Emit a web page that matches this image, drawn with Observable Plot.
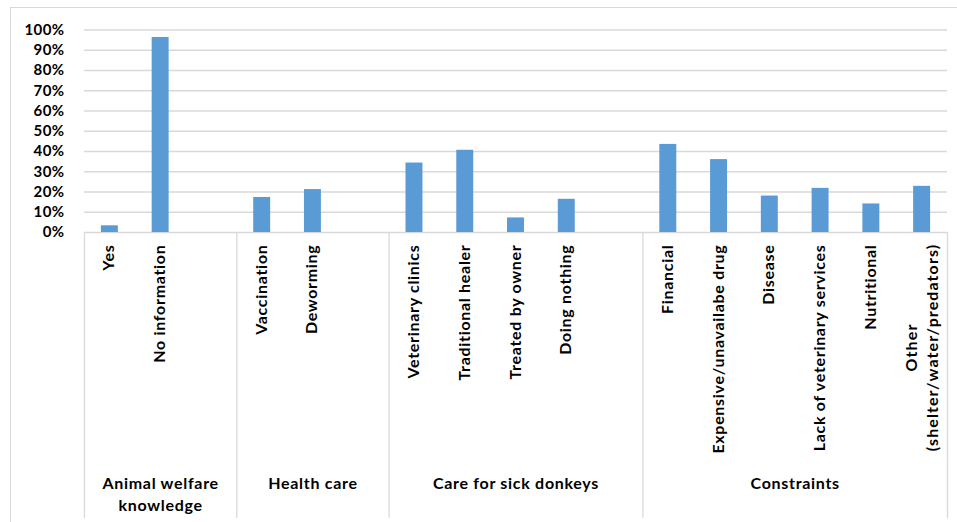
<!DOCTYPE html>
<html><head><meta charset="utf-8">
<script src="https://cdn.jsdelivr.net/npm/d3@7"></script>
<script src="https://cdn.jsdelivr.net/npm/@observablehq/plot@0.6"></script>
<style>
html,body{margin:0;padding:0;background:#fff;}
#wrap{position:relative;width:957px;height:522px;overflow:hidden;}
#border{position:absolute;left:10px;top:7px;width:1000px;height:1000px;border:1px solid #d9d9d9;box-sizing:border-box;}
#chart{position:absolute;left:0;top:0;}
#chart g[aria-label="text"] text{letter-spacing:0.7px;}
#chart g[aria-label="text"] text.multi{letter-spacing:1.1px;}
#chart g[aria-label="y-axis tick label"] text{letter-spacing:0.4px;}
</style></head><body>
<div id="wrap"><div id="border"></div><div id="chart"></div></div>
<script>
const groups = ["Animal welfare\nknowledge", "Health care", "Care for sick donkeys", "Constraints"];
const categories = ["Yes", "No information", "", "Vaccination", "Deworming", "",
  "Veterinary clinics", "Traditional healer", "Treated by owner", "Doing nothing", "",
  "Financial", "Expensive/unavailabe drug", "Disease", "Lack of veterinary services", "Nutritional",
  "Other\n(shelter/water/predators)"];
const groupOf = [0, 0, 0, 1, 1, 1, 2, 2, 2, 2, 2, 3, 3, 3, 3, 3, 3];
const values = [0.033, 0.963, null, 0.173, 0.212, null, 0.343, 0.406, 0.072, 0.164, null,
  0.435, 0.360, 0.180, 0.218, 0.141, 0.228];
const yTicks = [0, 0.1, 0.2, 0.3, 0.4, 0.5, 0.6, 0.7, 0.8, 0.9, 1.0];

const n = categories.length;
const rows = categories.map((c, i) => ({i, category: c, value: values[i], group: groupOf[i]}));
const bounds = [0];
groupOf.forEach((g, i) => { if (i === n - 1 || groupOf[i + 1] !== g) bounds.push(i + 1); });
const groupRows = groups.map((g, k) => ({label: g, mid: (bounds[k] + bounds[k + 1]) / 2}));

const font = "Lato, 'Open Sans', sans-serif";
const chart = Plot.plot({
  width: 957, height: 522,
  marginLeft: 84, marginRight: 10, marginTop: 29.5, marginBottom: 290,
  style: {fontFamily: font, fontWeight: "bold", fontSize: "15px", color: "#000", background: "transparent", overflow: "visible"},
  x: {type: "linear", domain: [0, n], axis: null},
  y: {domain: [0, 1], ticks: yTicks, tickFormat: d3.format(".0%"), label: null, tickSize: 0, tickPadding: 20},
  marks: [
    Plot.ruleY(yTicks, {stroke: "#d9d9d9", strokeWidth: 1.3}),
    Plot.rectY(rows.filter(d => d.value != null), {x1: "i", x2: d => d.i + 1, y: "value", fill: "#5b9bd5", insetLeft: 16.9, insetRight: 16.9}),
    Plot.ruleX(bounds, {x: d => d, y1: 0, y2: 0, insetBottom: -286, stroke: "#d9d9d9", strokeWidth: 1.3}),
    Plot.text(rows.filter(d => d.category && !d.category.includes("\n")), {
      x: d => d.i + 0.5, frameAnchor: "bottom", text: "category", rotate: -90, textAnchor: "end", dx: 4.5, dy: 12, fontSize: 16, fill: "#000"}),
    Plot.text(rows.filter(d => d.category.includes("\n")), {
      x: d => d.i + 0.5, frameAnchor: "bottom", text: "category", rotate: -90, textAnchor: "middle", dx: 15.5, dy: 115, fontSize: 16, lineHeight: 1.3, fill: "#000"}),
    Plot.text(groupRows, {x: "mid", frameAnchor: "bottom", text: "label", lineAnchor: "top", dy: 241, fontSize: 16, lineHeight: 1.375, fill: "#000"})
  ]
});
chart.querySelectorAll('g[aria-label="text"] text').forEach(t => {
  if (t.getAttribute("transform") && t.getAttribute("transform").includes("rotate") && t.querySelector("tspan")) t.classList.add("multi");
});
document.getElementById("chart").appendChild(chart);
</script>
</body></html>
